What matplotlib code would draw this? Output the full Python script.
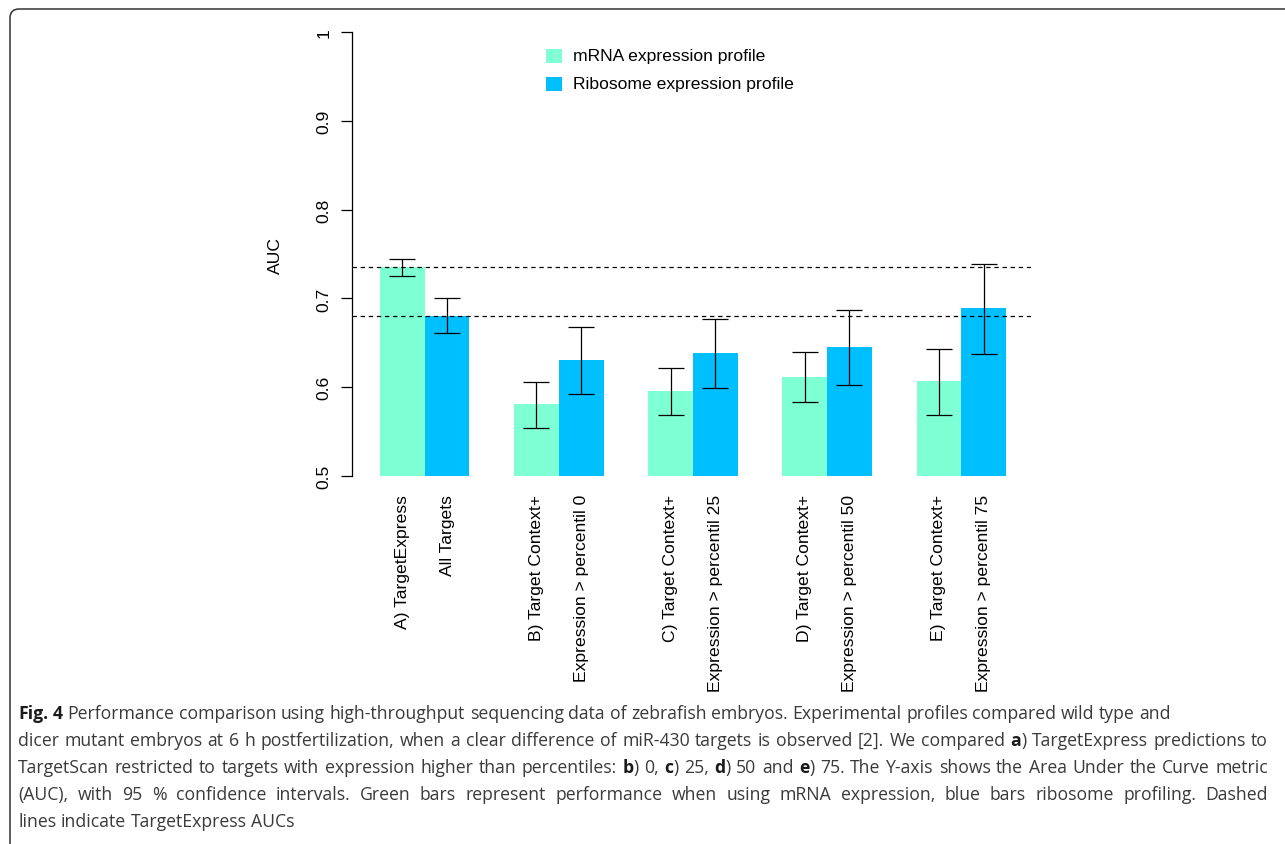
import matplotlib
matplotlib.use("Agg")
import matplotlib.pyplot as plt
import numpy as np
from matplotlib.patches import FancyBboxPatch, Rectangle
from matplotlib import font_manager

# ---- data ----
bar_labels = ["A) TargetExpress", "All Targets",
              "B) Target Context+", "Expression > percentil 0",
              "C) Target Context+", "Expression > percentil 25",
              "D) Target Context+", "Expression > percentil 50",
              "E) Target Context+", "Expression > percentil 75"]
mrna_auc = [0.735, 0.581, 0.596, 0.612, 0.607]
mrna_lo = [0.725, 0.554, 0.569, 0.583, 0.569]
mrna_hi = [0.744, 0.606, 0.622, 0.640, 0.643]
ribo_auc = [0.680, 0.631, 0.638, 0.645, 0.689]
ribo_lo = [0.661, 0.592, 0.599, 0.603, 0.637]
ribo_hi = [0.700, 0.668, 0.677, 0.687, 0.739]
series_names = ["mRNA expression profile", "Ribosome expression profile"]
series_colors = ["#7FFFD4", "#00BFFF"]
yticks = [0.5, 0.6, 0.7, 0.8, 0.9, 1.0]
ytick_labels = ["0.5", "0.6", "0.7", "0.8", "0.9", "1"]

caption = [
    "*Fig. 4* Performance comparison using high-throughput sequencing data of zebrafish embryos. Experimental profiles compared wild type and",
    "dicer mutant embryos at 6 h postfertilization, when a clear difference of miR-430 targets is observed [2]. We compared *a*) TargetExpress predictions to",
    "TargetScan restricted to targets with expression higher than percentiles: *b*) 0, *c*) 25, *d*) 50 and *e*) 75. The Y-axis shows the Area Under the Curve metric",
    "(AUC), with 95 % confidence intervals. Green bars represent performance when using mRNA expression, blue bars ribosome profiling. Dashed",
    "lines indicate TargetExpress AUCs",
]
justified = [False, True, True, True, False]


def pick_font(names):
    for n in names:
        try:
            font_manager.findfont(n, fallback_to_default=False)
            return n
        except Exception:
            pass
    return "DejaVu Sans"


chart_font = pick_font(["Liberation Sans", "Arial", "DejaVu Sans"])
cap_font = pick_font(["Open Sans", "Noto Sans", "DejaVu Sans"])
plt.rcParams["font.family"] = chart_font
fs = 12.6

W, H = 1285, 845
fig = plt.figure(figsize=(W / 100, H / 100), dpi=100)

# plot region in pixels: x 352..1031, y 33..477
ax = fig.add_axes([352 / W, 1 - 477 / H, (1031 - 352) / W, (477 - 33) / H])
ax.set_xlim(0.374, 15.56)
ax.set_ylim(0.5, 1.0)

n = len(mrna_auc)
x_m = np.array([1.5 + 3 * i for i in range(n)])
x_r = x_m + 1.0
mrna_auc = np.array(mrna_auc)
ribo_auc = np.array(ribo_auc)

ax.bar(x_m, mrna_auc - 0.5, bottom=0.5, width=1.0, color=series_colors[0], linewidth=0)
ax.bar(x_r, ribo_auc - 0.5, bottom=0.5, width=1.0, color=series_colors[1], linewidth=0)

err_m = [mrna_auc - np.array(mrna_lo), np.array(mrna_hi) - mrna_auc]
err_r = [ribo_auc - np.array(ribo_lo), np.array(ribo_hi) - ribo_auc]
ax.errorbar(x_m, mrna_auc, yerr=err_m, fmt="none", ecolor="black", elinewidth=0.9,
            capsize=9.5, capthick=0.9)
ax.errorbar(x_r, ribo_auc, yerr=err_r, fmt="none", ecolor="black", elinewidth=0.9,
            capsize=9.5, capthick=0.9)

# reference lines at TargetExpress AUCs
ax.axhline(mrna_auc[0], color="black", linestyle=(0, (3.5, 3)), linewidth=0.9)
ax.axhline(ribo_auc[0], color="black", linestyle=(0, (3.5, 3)), linewidth=0.9)

for s in ["top", "right", "bottom"]:
    ax.spines[s].set_visible(False)
ax.spines["left"].set_bounds(0.5, 1.0)
ax.spines["left"].set_linewidth(0.9)

ax.set_yticks(yticks)
ax.set_yticklabels(ytick_labels, rotation=90, va="center", fontsize=fs)
ax.tick_params(axis="y", length=8, width=0.9, pad=7)

xpos = np.ravel(np.column_stack([x_m, x_r]))
ax.set_xticks(xpos)
ax.set_xticklabels(bar_labels, rotation=90, va="top", ha="center", fontsize=fs)
ax.tick_params(axis="x", length=0, pad=13)

ax.set_ylabel("AUC", fontsize=fs)
ax.yaxis.set_label_coords((283 - 352) / (1031 - 352), 0.5)

# legend without box
for i, (name, col) in enumerate(zip(series_names, series_colors)):
    yc = 57 + 28 * i
    fig.add_artist(Rectangle((546 / W, 1 - (yc + 7) / H), 16 / W, 14 / H,
                             transform=fig.transFigure, color=col, linewidth=0))
    fig.text(573 / W, 1 - yc / H, name, fontsize=fs, va="center", ha="left")

# outer frame
frame = FancyBboxPatch((10, -40), 1320, 835 + 40, boxstyle="round,pad=0,rounding_size=9",
                       transform=None, facecolor="none", edgecolor="#333333", linewidth=1.1)
fig.add_artist(frame)

# caption
renderer = fig.canvas.get_renderer()


def parse_words(line):
    words, cur, buf, bold = [], [], "", False
    for ch in line:
        if ch == "*":
            if buf:
                cur.append((buf, bold))
                buf = ""
            bold = not bold
        elif ch == " ":
            if buf:
                cur.append((buf, bold))
                buf = ""
            if cur:
                words.append(cur)
                cur = []
        else:
            buf += ch
    if buf:
        cur.append((buf, bold))
    if cur:
        words.append(cur)
    return words


def text_width(s, size, bold):
    t = fig.text(0, 0, s, fontsize=size, family=cap_font,
                 fontweight="bold" if bold else "normal")
    w = t.get_window_extent(renderer).width
    t.remove()
    return w


def line_width(words, size):
    sp = text_width("x x", size, False) - text_width("xx", size, False)
    total = sum(text_width(r, size, b) for w in words for r, b in w)
    return total + sp * (len(words) - 1)


parsed = [parse_words(l) for l in caption]
base = 12.0
cap_size = base * 1146 / line_width(parsed[0], base)
space = text_width("x x", cap_size, False) - text_width("xx", cap_size, False)

x0, x1 = 18, 1268
for k, words in enumerate(parsed):
    yb = 719 + 27 * k
    widths = [[text_width(r, cap_size, b) for r, b in w] for w in words]
    wsum = sum(sum(ws) for ws in widths)
    gap = (x1 - x0 - wsum) / (len(words) - 1) if justified[k] else space
    x = x0
    for w, ws in zip(words, widths):
        for (r, b), rw in zip(w, ws):
            fig.text(x / W, 1 - yb / H, r, fontsize=cap_size, family=cap_font,
                     fontweight="bold" if b else "normal",
                     color="#1a1a1a" if b else "#3a3a3a", va="baseline", ha="left")
            x += rw
        x += gap

fig.savefig("out.png", dpi=100)
